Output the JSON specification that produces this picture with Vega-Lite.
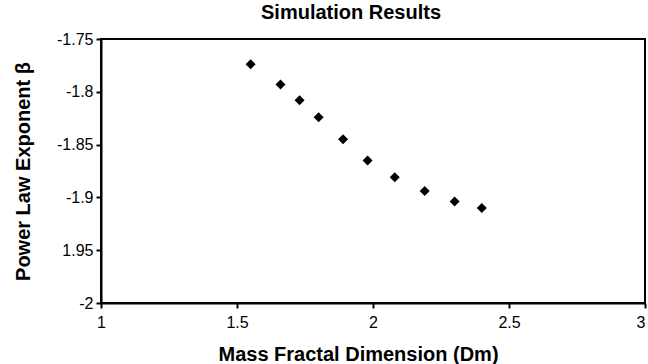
{
  "$schema": "https://vega.github.io/schema/vega-lite/v6.json",
  "width": 544,
  "height": 264,
  "autosize": {"type": "none"},
  "padding": {"left": 101, "top": 39, "right": 3, "bottom": 61},
  "background": "white",
  "title": {
    "text": "Simulation Results",
    "font": "Liberation Sans",
    "fontSize": 20,
    "fontWeight": "bold",
    "color": "black",
    "anchor": "middle",
    "frame": "group",
    "dx": -22,
    "offset": 8
  },
  "config": {
    "view": {"stroke": "black", "strokeWidth": 2},
    "axis": {
      "grid": false,
      "domainColor": "black",
      "domainWidth": 2,
      "tickColor": "black",
      "tickWidth": 2,
      "tickSize": 5,
      "labelFont": "Liberation Sans",
      "labelFontSize": 16,
      "labelColor": "black",
      "titleFont": "Liberation Sans",
      "titleFontSize": 20,
      "titleFontWeight": "bold",
      "titleColor": "black"
    }
  },
  "data": {
    "values": [
      {"Dm": 1.55, "beta": -1.774},
      {"Dm": 1.66, "beta": -1.793},
      {"Dm": 1.73, "beta": -1.808},
      {"Dm": 1.80, "beta": -1.824},
      {"Dm": 1.89, "beta": -1.845},
      {"Dm": 1.98, "beta": -1.865},
      {"Dm": 2.08, "beta": -1.881},
      {"Dm": 2.19, "beta": -1.894},
      {"Dm": 2.30, "beta": -1.904},
      {"Dm": 2.40, "beta": -1.910}
    ]
  },
  "mark": {"type": "point", "shape": "diamond", "filled": true, "color": "black", "opacity": 1, "size": 100},
  "encoding": {
    "x": {
      "field": "Dm",
      "type": "quantitative",
      "scale": {"domain": [1, 3], "nice": false, "zero": false},
      "axis": {
        "values": [1, 1.5, 2, 2.5, 3],
        "labelExpr": "format(datum.value, '~g')",
        "labelAlign": {"condition": {"test": "datum.value == 3", "value": "right"}, "value": "center"},
        "title": "Mass Fractal Dimension (Dm)",
        "titleX": 257,
        "titleY": 57,
        "titleBaseline": "alphabetic",
        "titleAlign": "center",
        "labelPadding": 6,
        "labelFlush": false
      }
    },
    "y": {
      "field": "beta",
      "type": "quantitative",
      "scale": {"domain": [-2, -1.75], "nice": false, "zero": false},
      "axis": {
        "values": [-2, -1.95, -1.9, -1.85, -1.8, -1.75],
        "labelExpr": "abs(datum.value + 1.95) < 0.001 ? '1.95' : '-' + format(abs(datum.value), '.2~f')",
        "title": "Power Law Exponent β",
        "titleX": -72,
        "titleY": 132,
        "titleAngle": -90,
        "titleBaseline": "alphabetic",
        "titleAlign": "center",
        "labelPadding": 3,
        "labelFlush": false
      }
    }
  }
}
